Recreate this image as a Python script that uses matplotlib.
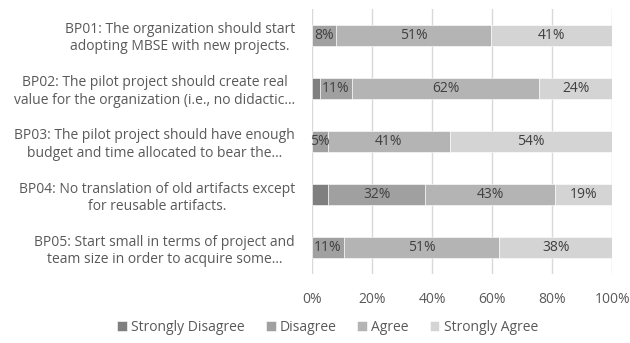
import matplotlib
matplotlib.use("Agg")
import matplotlib.pyplot as plt
import numpy as np

plt.rcParams['font.family'] = ['Open Sans', 'DejaVu Sans']

categories = [
    "BP01: The organization should start\nadopting MBSE with new projects.",
    "BP02: The pilot project should create real\nvalue for the organization (i.e., no didactic…",
    "BP03: The pilot project should have enough\nbudget and time allocated to bear the…",
    "BP04: No translation of old artifacts except\nfor reusable artifacts.",
    "BP05: Start small in terms of project and\nteam size in order to acquire some…",
]
series_names = ["Strongly Disagree", "Disagree", "Agree", "Strongly Agree"]
strongly_disagree = [0.0, 2.7, 0.0, 5.4, 0.0]
disagree = [8.1, 10.8, 5.4, 32.4, 10.8]
agree = [51.4, 62.2, 40.5, 43.2, 51.4]
strongly_agree = [40.5, 24.3, 54.1, 18.9, 37.8]
show_labels = [False, True, True, True]
x_ticks = [0, 20, 40, 60, 80, 100]

colors = ["#7f7f7f", "#a0a0a0", "#b4b4b4", "#d4d4d4"]
FS = 10

fig = plt.figure(figsize=(6.3, 3.43), dpi=100)
ax = fig.add_axes([0.4948, 0.2, 0.4774, 0.775])

y = np.arange(len(categories))
left = np.zeros(len(categories))
handles = []
for vals, name, col, lab in zip([strongly_disagree, disagree, agree, strongly_agree],
                                series_names, colors, show_labels):
    vals = np.array(vals)
    h = ax.barh(y, vals, left=left, height=0.4, color=col, edgecolor="white",
                linewidth=0.4, label=name, zorder=3)
    handles.append(h)
    if lab:
        for yi, l, v in zip(y, left, vals):
            if v > 0:
                ax.text(l + v / 2, yi, f"{int(v + 0.5)}%", ha="center", va="center",
                        fontsize=FS, color="#404040", zorder=4)
    left += vals

ax.set_xlim(0, 100)
ax.set_ylim(len(categories) - 0.5, -0.5)
ax.set_yticks(y)
ax.set_yticklabels(categories, fontsize=FS, color="#595959", ha="right")
for t in ax.get_yticklabels():
    t.set_multialignment("center")
ax.set_xticks(x_ticks)
ax.set_xticklabels([f"{t}%" for t in x_ticks], fontsize=FS, color="#595959")
ax.tick_params(axis="y", length=0, pad=12)
ax.tick_params(axis="x", length=0, pad=13)
ax.xaxis.grid(True, color="#d9d9d9", linewidth=1, zorder=0)
for s in ax.spines.values():
    s.set_visible(False)

fig.legend(handles=handles, labels=series_names, loc="center", bbox_to_anchor=(0.52, 0.045),
           ncol=4, frameon=False, fontsize=FS, handlelength=0.7, handleheight=0.7,
           handletextpad=0.3, columnspacing=1.5, labelcolor="#595959")

fig.savefig("out.png", dpi=100)
